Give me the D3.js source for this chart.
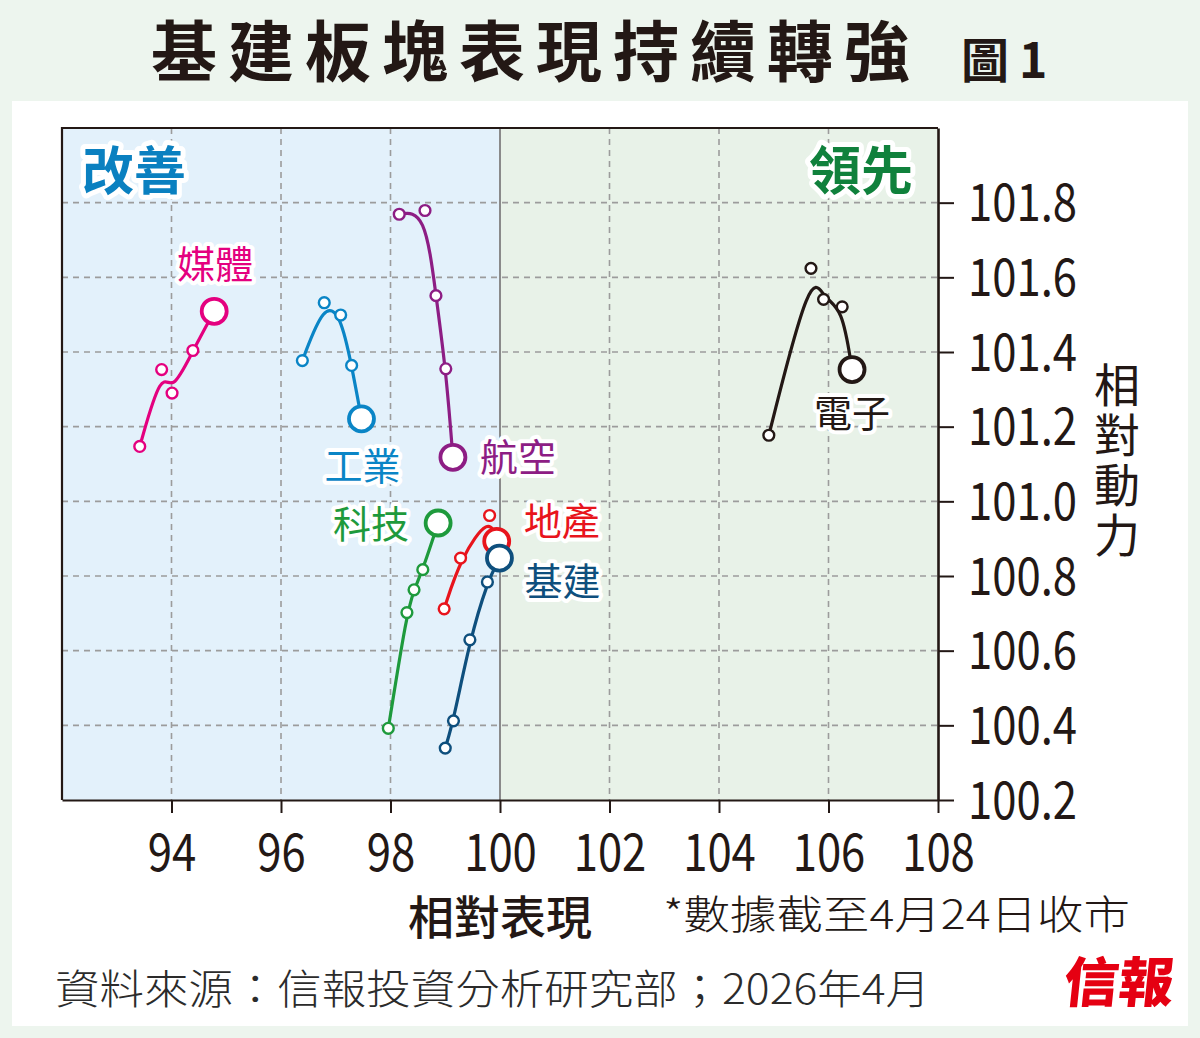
<!DOCTYPE html>
<html>
<head>
<meta charset="utf-8">
<script src="https://cdn.jsdelivr.net/npm/d3@7"></script>
<style>
  body { margin: 0; background: #edf5ee; }
  svg { display: block; }
  text { font-family: "Noto Sans CJK TC", "Noto Sans", sans-serif; }
</style>
</head>
<body>
<svg id="chart" width="1200" height="1038"></svg>
<script>
// Sector names, in drawing order
const sectorNames = ["媒體", "工業", "航空", "科技", "地產", "基建", "電子"]

// Relative performance (x), oldest -> latest
const relPerformance = [
  [93.42, 93.82, 94.01, 94.39, 94.78],
  [96.39, 96.79, 97.09, 97.29, 97.47],
  [98.16, 98.63, 98.83, 99.01, 99.14],
  [97.96, 98.30, 98.43, 98.59, 98.87],
  [98.98, 99.28, 99.81, 99.94],
  [99.00, 99.15, 99.45, 99.77, 99.99],
  [104.91, 105.68, 105.91, 106.25, 106.43]
]

// Relative momentum (y), oldest -> latest
const relMomentum = [
  [101.147, 101.353, 101.290, 101.404, 101.509],
  [101.377, 101.532, 101.499, 101.364, 101.221],
  [101.769, 101.779, 101.551, 101.355, 101.118],
  [100.392, 100.702, 100.763, 100.817, 100.942],
  [100.712, 100.848, 100.962, 100.893],
  [100.339, 100.412, 100.629, 100.784, 100.848],
  [101.177, 101.624, 101.541, 101.521, 101.353]
]

const xTicks = [94, 96, 98, 100, 102, 104, 106, 108]
const yTicks = [100.2, 100.4, 100.6, 100.8, 101.0, 101.2, 101.4, 101.6, 101.8]

// styling, kept apart from the values
const sectorColors = ["#e4007f", "#0a85c6", "#8d1d84", "#1e9a3c", "#e8141c", "#0e4f7d", "#231815"]
// label offset from the latest point, in px
const labelOffsets = [[1, -47], [1, 47], [65, 0], [-67, 1], [65, -20], [63, 23], [0, 44]]

const svg = d3.select("#chart")
const ink = "#231815"

// page panels
svg.append("rect").attr("width", 1200).attr("height", 1038).attr("fill", "#edf5ee")
svg.append("rect").attr("x", 12).attr("y", 101).attr("width", 1176).attr("height", 925).attr("fill", "#ffffff")

// title
svg.append("text")
  .attr("x", 151).attr("y", 76)
  .attr("font-size", 66)
  .attr("font-weight", 700)
  .attr("letter-spacing", 11)
  .attr("fill", ink)
  .text("基建板塊表現持續轉強")

svg.append("text")
  .attr("x", 961).attr("y", 78)
  .attr("font-size", 48)
  .attr("font-weight", 700)
  .attr("letter-spacing", 10)
  .attr("fill", ink)
  .text("圖1")

// scales
const plotLeft = 62, plotRight = 938, plotTop = 128, plotBottom = 800
const x = d3.scaleLinear().domain([92, 108]).range([plotLeft, plotRight])
const y = d3.scaleLinear().domain([100.2, 102]).range([plotBottom, plotTop])

// quadrant backgrounds
svg.append("rect").attr("x", plotLeft).attr("y", plotTop)
  .attr("width", x(100) - plotLeft).attr("height", plotBottom - plotTop).attr("fill", "#e3f1fb")
svg.append("rect").attr("x", x(100)).attr("y", plotTop)
  .attr("width", plotRight - x(100)).attr("height", plotBottom - plotTop).attr("fill", "#e8f2e8")

// dashed grid
const grid = svg.append("g").attr("stroke", "#9c9c9c").attr("stroke-width", 1.6).attr("stroke-dasharray", "6,5")
grid.selectAll(".gx").data(xTicks.filter(d => d !== 100 && d !== 108)).enter().append("line")
  .attr("x1", d => x(d)).attr("x2", d => x(d)).attr("y1", plotTop).attr("y2", plotBottom)
grid.selectAll(".gy").data(yTicks.filter(d => d > 100.2)).enter().append("line")
  .attr("x1", plotLeft).attr("x2", plotRight).attr("y1", d => y(d)).attr("y2", d => y(d))

// 100 divider
svg.append("line")
  .attr("x1", x(100)).attr("x2", x(100)).attr("y1", plotTop).attr("y2", plotBottom)
  .attr("stroke", "#8a8a8a").attr("stroke-width", 2)

// frame (top + left)
svg.append("path")
  .attr("d", `M${plotLeft},${plotBottom}V${plotTop}H${plotRight}`)
  .attr("fill", "none").attr("stroke", ink).attr("stroke-width", 2.2)

// corner labels
const cornerLabel = (txt, cx, color) => {
  svg.append("text")
    .attr("x", cx).attr("y", 190)
    .attr("text-anchor", "middle")
    .attr("font-size", 52).attr("font-weight", 700)
    .attr("fill", color)
    .attr("stroke", "#ffffff").attr("stroke-width", 10)
    .attr("stroke-linejoin", "round").attr("paint-order", "stroke")
    .text(txt)
}
cornerLabel("改善", 134, "#0a80c0")
cornerLabel("領先", 861, "#10813c")

// axes
const numScale = 0.84
const xAxis = svg.append("g")
  .attr("transform", `translate(0,${plotBottom})`)
  .call(d3.axisBottom(x).tickValues(xTicks).tickSize(13).tickSizeOuter(0).tickFormat(d3.format("d")))
xAxis.select(".domain").attr("stroke", ink).attr("stroke-width", 2.2)
xAxis.selectAll(".tick line").attr("stroke", ink).attr("stroke-width", 2)
xAxis.selectAll(".tick text")
  .attr("y", 71).attr("dy", null)
  .attr("transform", `scale(${numScale},1)`)
  .attr("font-family", "'Liberation Sans', Arial, sans-serif")
  .attr("font-size", 52)
  .attr("fill", ink)

const yAxis = svg.append("g")
  .attr("transform", `translate(${plotRight},0)`)
  .call(d3.axisRight(y).tickValues(yTicks).tickSize(16).tickSizeOuter(0).tickFormat(d3.format(".1f")))
yAxis.select(".domain").attr("stroke", ink).attr("stroke-width", 2.6)
yAxis.selectAll(".tick line").attr("stroke", ink).attr("stroke-width", 2)
yAxis.selectAll(".tick text")
  .attr("x", 30 / numScale).attr("dy", null).attr("y", 18)
  .attr("transform", `scale(${numScale},1)`)
  .attr("font-family", "'Liberation Sans', Arial, sans-serif")
  .attr("font-size", 52)
  .attr("fill", ink)

// axis titles
svg.append("text")
  .attr("x", 1117).attr("y", 362)
  .style("writing-mode", "vertical-rl")
  .attr("font-size", 46)
  .attr("letter-spacing", 4)
  .attr("fill", ink)
  .text("相對動力")

svg.append("text")
  .attr("x", 500).attr("y", 934)
  .attr("text-anchor", "middle")
  .attr("font-size", 46).attr("font-weight", 500)
  .attr("fill", ink)
  .text("相對表現")

svg.append("text")
  .attr("x", 663).attr("y", 929)
  .attr("font-size", 40).attr("font-weight", 300)
  .attr("textLength", 467).attr("lengthAdjust", "spacingAndGlyphs")
  .attr("fill", ink)
  .text("*數據截至4月24日收市")

// footer
svg.append("text")
  .attr("x", 55).attr("y", 1004)
  .attr("font-size", 41).attr("font-weight", 300)
  .attr("textLength", 875).attr("lengthAdjust", "spacingAndGlyphs")
  .attr("fill", "#2b2b2b")
  .text("資料來源：信報投資分析研究部；2026年4月")

svg.append("text")
  .attr("transform", "translate(1062,1002) skewX(-6)")
  .attr("font-size", 54).attr("font-weight", 900)
  .attr("textLength", 110).attr("lengthAdjust", "spacingAndGlyphs")
  .attr("fill", "#e50012")
  .text("信報")

// series
const line = d3.line().curve(d3.curveBasis).x(d => x(d[0])).y(d => y(d[1]))

sectorNames.forEach((name, s) => {
  const pts = relPerformance[s].map((v, i) => [v, relMomentum[s][i]])
  const color = sectorColors[s]
  const g = svg.append("g")

  g.append("path")
    .attr("d", line(pts))
    .attr("fill", "none")
    .attr("stroke", color)
    .attr("stroke-width", 3.2)

  g.selectAll("circle").data(pts).enter().append("circle")
    .attr("cx", d => x(d[0]))
    .attr("cy", d => y(d[1]))
    .attr("r", (d, i) => i === pts.length - 1 ? 12.5 : 5.4)
    .attr("fill", "#ffffff")
    .attr("stroke", color)
    .attr("stroke-width", (d, i) => i === pts.length - 1 ? 3.8 : 2.4)

  const last = pts[pts.length - 1]
  svg.append("text")
    .attr("x", x(last[0]) + labelOffsets[s][0])
    .attr("y", y(last[1]) + labelOffsets[s][1])
    .attr("dy", "0.36em")
    .attr("text-anchor", "middle")
    .attr("font-size", 38)
    .attr("fill", color)
    .attr("stroke", "#ffffff").attr("stroke-width", 8)
    .attr("stroke-linejoin", "round").attr("paint-order", "stroke")
    .text(name)
})
</script>
</body>
</html>
